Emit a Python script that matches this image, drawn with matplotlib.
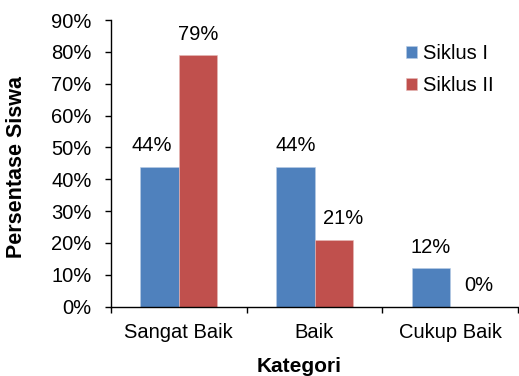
import matplotlib
matplotlib.use("Agg")
import matplotlib.pyplot as plt
import numpy as np
from matplotlib.ticker import FuncFormatter

plt.rcParams['font.family'] = ['Liberation Sans', 'DejaVu Sans']

categories = ["Sangat Baik", "Baik", "Cukup Baik"]
siklus1 = [44, 44, 12]
siklus2 = [79, 21, 0]
series_names = ["Siklus I", "Siklus II"]
colors = ["#4F81BD", "#C0504D"]

W, H = 519, 376
FS = 14.5
fig = plt.figure(figsize=(W / 100, H / 100), dpi=100)
ax = fig.add_axes([111 / W, 69.3 / H, (518 - 111) / W, (356 - 69.3) / H])

x = np.arange(len(categories))
bw = 0.283
b1 = ax.bar(x - bw / 2, siklus1, bw, color=colors[0], label=series_names[0],
            edgecolor="#B9CDE5", linewidth=0.4)
b2 = ax.bar(x + bw / 2, siklus2, bw, color=colors[1], label=series_names[1],
            edgecolor="#E6B9B8", linewidth=0.4)

# label x offsets (points) to mimic placement in reference
off1 = [-6, 0, 0]
off2 = [0, 7, 7]
for rects, vals, offs in ((b1, siklus1, off1), (b2, siklus2, off2)):
    for r, v, o in zip(rects, vals, offs):
        ax.annotate(f"{v}%", (r.get_x() + r.get_width() / 2, v),
                    xytext=(o, 15), textcoords="offset points",
                    ha="center", va="center", fontsize=FS)

ax.set_xlim(-0.5, 2.5)
ax.set_ylim(0, 90)
ax.set_yticks(range(0, 91, 10))
ax.yaxis.set_major_formatter(FuncFormatter(lambda v, p: f"{int(v)}%"))
ax.set_xticks([-0.5, 0.5, 1.5, 2.5], minor=False)
ax.set_xticklabels([])
ax.set_xticks(x, minor=True)
ax.set_xticklabels(categories, minor=True)
ax.tick_params(axis="x", which="minor", length=0, pad=12, labelsize=FS)
ax.tick_params(axis="x", which="major", length=4, width=1, direction="out")
ax.tick_params(axis="y", length=4, width=1, direction="out", pad=10, labelsize=FS)

for s in ("top", "right"):
    ax.spines[s].set_visible(False)
ax.spines["left"].set_linewidth(1)
ax.spines["bottom"].set_linewidth(1)

fig.text(299 / W, 1 - 367 / H, "Kategori", ha="center", va="center",
         fontsize=15, fontweight="bold")
fig.text(16.5 / W, 1 - 166.5 / H, "Persentase Siswa", ha="center", va="center",
         rotation=90, fontsize=15.5, fontweight="bold")

ax.legend(loc="upper left", bbox_to_anchor=(406 / W, 1 - 44 / H),
          bbox_transform=fig.transFigure, frameon=False, fontsize=FS,
          handlelength=0.55, handleheight=0.55, handletextpad=0.3,
          labelspacing=0.65, borderaxespad=0, borderpad=0)

fig.savefig("out.png", dpi=100)
